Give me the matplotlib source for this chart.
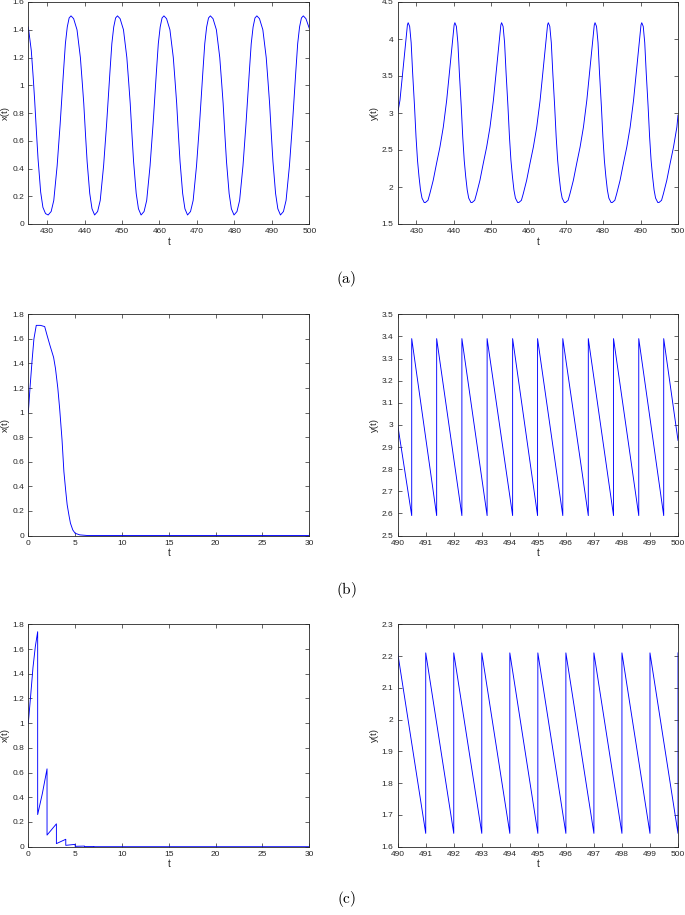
"""
Three-row phase plots: x(t) and y(t) for cases (a), (b), (c)
"""

import numpy as np
import matplotlib
matplotlib.use("Agg")
import matplotlib.pyplot as plt
from matplotlib.ticker import FixedLocator, FuncFormatter

plt.rcParams["font.family"] = ["Liberation Sans", "DejaVu Sans"]
plt.rcParams["mathtext.fontset"] = "cm"

# ---- (a) x(t), periodic oscillation ----
t_xa = [425.0, 425.8, 426.3, 426.7, 427.2, 427.6, 428.3, 428.9, 429.6, 430.3,
        431.1, 431.8, 432.7, 433.5, 434.4, 434.9, 435.4, 435.9, 436.4,
        437.1, 438.0, 438.9, 439.4, 439.8, 440.3, 440.7, 441.4, 442.0, 442.7,
        443.5, 444.2, 445.1, 445.9, 446.8, 447.3, 447.8, 448.3, 448.8,
        449.5, 450.4, 451.3, 451.8, 452.2, 452.7, 453.1, 453.8, 454.4, 455.1,
        455.9, 456.6, 457.5, 458.3, 459.2, 459.7, 460.2, 460.7, 461.2,
        461.9, 462.8, 463.7, 464.2, 464.6, 465.1, 465.5, 466.2, 466.8, 467.5,
        468.3, 469.0, 469.9, 470.7, 471.6, 472.1, 472.6, 473.1, 473.6,
        474.3, 475.2, 476.1, 476.6, 477.0, 477.5, 477.9, 478.6, 479.2, 479.9,
        480.7, 481.4, 482.3, 483.1, 484.0, 484.5, 485.0, 485.5, 486.0,
        486.7, 487.6, 488.5, 489.0, 489.4, 489.9, 490.3, 491.0, 491.6, 492.3,
        493.1, 493.8, 494.7, 495.5, 496.4, 496.9, 497.4, 497.9, 498.4,
        499.1, 500.0]
x_a = [1.42, 1.25, 1.06, 0.89, 0.65, 0.47, 0.23, 0.12, 0.075, 0.065,
       0.09, 0.17, 0.42, 0.72, 1.10, 1.30, 1.42, 1.485, 1.50,
       1.48, 1.40, 1.20, 1.02, 0.87, 0.63, 0.45, 0.22, 0.11, 0.065,
       0.09, 0.17, 0.42, 0.72, 1.10, 1.30, 1.42, 1.485, 1.50,
       1.48, 1.40, 1.20, 1.02, 0.87, 0.63, 0.45, 0.22, 0.11, 0.065,
       0.09, 0.17, 0.42, 0.72, 1.10, 1.30, 1.42, 1.485, 1.50,
       1.48, 1.40, 1.20, 1.02, 0.87, 0.63, 0.45, 0.22, 0.11, 0.065,
       0.09, 0.17, 0.42, 0.72, 1.10, 1.30, 1.42, 1.485, 1.50,
       1.48, 1.40, 1.20, 1.02, 0.87, 0.63, 0.45, 0.22, 0.11, 0.065,
       0.09, 0.17, 0.42, 0.72, 1.10, 1.30, 1.42, 1.485, 1.50,
       1.48, 1.40, 1.20, 1.02, 0.87, 0.63, 0.45, 0.22, 0.11, 0.065,
       0.09, 0.17, 0.42, 0.72, 1.10, 1.30, 1.42, 1.485, 1.50,
       1.48, 1.41]

# ---- (a) y(t) ----
t_ya = [425.0, 425.6, 426.4, 427.1, 427.6, 427.8,
        428.2, 428.6, 429.0, 429.5, 429.9, 430.3, 430.7, 431.1, 431.5, 432.1, 432.4,
        433.1, 433.6, 434.5, 435.4, 436.3, 437.2, 438.1, 438.9, 439.6, 440.1, 440.3,
        440.7, 441.1, 441.5, 442.0, 442.4, 442.8, 443.2, 443.6, 444.0, 444.6, 444.9,
        445.6, 446.1, 447.0, 447.9, 448.8, 449.7, 450.6, 451.4, 452.1, 452.6, 452.8,
        453.2, 453.6, 454.0, 454.5, 454.9, 455.3, 455.7, 456.1, 456.5, 457.1, 457.4,
        458.1, 458.6, 459.5, 460.4, 461.3, 462.2, 463.1, 463.9, 464.6, 465.1, 465.3,
        465.7, 466.1, 466.5, 467.0, 467.4, 467.8, 468.2, 468.6, 469.0, 469.6, 469.9,
        470.6, 471.1, 472.0, 472.9, 473.8, 474.7, 475.6, 476.4, 477.1, 477.6, 477.8,
        478.2, 478.6, 479.0, 479.5, 479.9, 480.3, 480.7, 481.1, 481.5, 482.1, 482.4,
        483.1, 483.6, 484.5, 485.4, 486.3, 487.2, 488.1, 488.9, 489.6, 490.1, 490.3,
        490.7, 491.1, 491.5, 492.0, 492.4, 492.8, 493.2, 493.6, 494.0, 494.6, 494.9,
        495.6, 496.1, 497.0, 497.9, 498.8, 499.7, 500.0]
y_a = [3.00, 3.17, 3.58, 3.94, 4.19, 4.22,
       4.17, 3.95, 3.54, 3.09, 2.68, 2.36, 2.14, 1.96, 1.85, 1.79, 1.79,
       1.82, 1.91, 2.09, 2.32, 2.54, 2.81, 3.17, 3.58, 3.94, 4.19, 4.22,
       4.17, 3.95, 3.54, 3.09, 2.68, 2.36, 2.14, 1.96, 1.85, 1.79, 1.79,
       1.82, 1.91, 2.09, 2.32, 2.54, 2.81, 3.17, 3.58, 3.94, 4.19, 4.22,
       4.17, 3.95, 3.54, 3.09, 2.68, 2.36, 2.14, 1.96, 1.85, 1.79, 1.79,
       1.82, 1.91, 2.09, 2.32, 2.54, 2.81, 3.17, 3.58, 3.94, 4.19, 4.22,
       4.17, 3.95, 3.54, 3.09, 2.68, 2.36, 2.14, 1.96, 1.85, 1.79, 1.79,
       1.82, 1.91, 2.09, 2.32, 2.54, 2.81, 3.17, 3.58, 3.94, 4.19, 4.22,
       4.17, 3.95, 3.54, 3.09, 2.68, 2.36, 2.14, 1.96, 1.85, 1.79, 1.79,
       1.82, 1.91, 2.09, 2.32, 2.54, 2.81, 3.17, 3.58, 3.94, 4.19, 4.22,
       4.17, 3.95, 3.54, 3.09, 2.68, 2.36, 2.14, 1.96, 1.85, 1.79, 1.79,
       1.82, 1.91, 2.09, 2.32, 2.54, 2.81, 2.97]

# ---- (b) x(t), dies out ----
t_xb = [0.0, 0.2, 0.4, 0.6, 0.85, 1.3, 1.75, 2.0, 2.3, 2.7, 2.9, 3.15, 3.35,
        3.6, 3.8, 4.0, 4.15, 4.35, 4.5, 4.75, 5.0, 5.5, 6.3, 10.0, 30.0]
x_b = [1.0, 1.22, 1.42, 1.60, 1.71, 1.71, 1.70, 1.63, 1.55, 1.45, 1.36, 1.20, 1.03,
       0.78, 0.52, 0.36, 0.25, 0.16, 0.10, 0.045, 0.018, 0.005, 0.0, 0.0, 0.0]

# ---- (b) y(t), sawtooth with impulses ----
t_yb = [490.0, 490.5, 490.5, 491.39, 491.39, 492.29, 492.29, 493.19, 493.19,
        494.1, 494.1, 494.99, 494.99, 495.89, 495.89, 496.8, 496.8, 497.7, 497.7,
        498.6, 498.6, 499.49, 499.49, 500.0]
y_b = [3.0, 2.59, 3.39, 2.59, 3.39, 2.59, 3.39, 2.59, 3.39,
       2.59, 3.39, 2.59, 3.39, 2.59, 3.39, 2.59, 3.39, 2.59, 3.39,
       2.59, 3.39, 2.59, 3.39, 2.93]

# ---- (c) x(t), impulsive decay ----
t_xc = [0.0, 0.25, 0.5, 0.75, 1.0, 1.0, 1.5, 2.0, 2.0, 3.0, 3.0, 4.0, 4.0,
        5.0, 5.0, 6.0, 6.0, 7.0, 7.0, 30.0]
x_c = [1.0, 1.22, 1.45, 1.62, 1.74, 0.26, 0.43, 0.63, 0.094, 0.185, 0.025, 0.06, 0.011,
       0.019, 0.003, 0.005, 0.001, 0.001, 0.0, 0.0]

# ---- (c) y(t), sawtooth ----
t_yc = [490.0, 490.0, 491.0, 491.0, 492.0, 492.0, 493.0, 493.0, 494.0, 494.0,
        495.0, 495.0, 496.0, 496.0, 497.0, 497.0, 498.0, 498.0, 499.0, 499.0,
        500.0, 500.0]
y_c = [1.642, 2.21, 1.642, 2.21, 1.642, 2.21, 1.642, 2.21, 1.642, 2.21,
       1.642, 2.21, 1.642, 2.21, 1.642, 2.21, 1.642, 2.21, 1.642, 2.21,
       1.642, 2.21]

W, H = 685, 915
fig = plt.figure(figsize=(W / 100, H / 100), dpi=100)

col_left = (28.3, 309.3)
col_right = (397.7, 678.0)
rows = [(2.0, 224.0), (314.3, 535.5), (624.3, 846.7)]


def make_ax(col, row):
    x0, x1 = col
    y0, y1 = row
    return fig.add_axes([x0 / W, 1 - y1 / H, (x1 - x0) / W, (y1 - y0) / H])


fmt = FuncFormatter(lambda v, p: f"{v:g}")


def style(ax, xlim, xticks, ylim, yticks, ylabel):
    ax.set_xlim(*xlim)
    ax.set_ylim(*ylim)
    ax.xaxis.set_major_locator(FixedLocator(np.round(xticks, 4)))
    ax.yaxis.set_major_locator(FixedLocator(np.round(yticks, 4)))
    ax.xaxis.set_major_formatter(fmt)
    ax.yaxis.set_major_formatter(fmt)
    ax.tick_params(direction="in", top=True, right=True, length=3, width=0.5,
                   labelsize=6.0, pad=3, colors="#262626")
    for s in ax.spines.values():
        s.set_linewidth(0.6)
        s.set_color("#262626")
    ax.set_xlabel("t", fontsize=7, labelpad=1, color="#262626")
    ax.set_ylabel(ylabel, fontsize=6.8, labelpad=2, color="#262626")


line_kw = dict(color=(0.0, 0.0, 1.0), linewidth=0.65)

ax = make_ax(col_left, rows[0])
ax.plot(t_xa, x_a, **line_kw)
style(ax, (425, 500), np.arange(430, 501, 10), (0, 1.6), np.arange(0, 1.61, 0.2), "x(t)")

ax = make_ax(col_right, rows[0])
ax.plot(t_ya, y_a, **line_kw)
style(ax, (425, 500), np.arange(430, 501, 10), (1.5, 4.5), np.arange(1.5, 4.51, 0.5), "y(t)")

ax = make_ax(col_left, rows[1])
ax.plot(t_xb, x_b, **line_kw)
style(ax, (0, 30), np.arange(0, 31, 5), (0, 1.8), np.arange(0, 1.81, 0.2), "x(t)")

ax = make_ax(col_right, rows[1])
ax.plot(t_yb, y_b, **line_kw)
style(ax, (490, 500), np.arange(490, 501, 1), (2.5, 3.5), np.arange(2.5, 3.51, 0.1), "y(t)")

ax = make_ax(col_left, rows[2])
ax.plot(t_xc, x_c, **line_kw)
style(ax, (0, 30), np.arange(0, 31, 5), (0, 1.8), np.arange(0, 1.81, 0.2), "x(t)")

ax = make_ax(col_right, rows[2])
ax.plot(t_yc, y_c, **line_kw)
style(ax, (490, 500), np.arange(490, 501, 1), (1.6, 2.3), np.arange(1.6, 2.31, 0.1), "y(t)")

# sub-figure captions
for lab, yc in [("(a)", 279), ("(b)", 590), ("(c)", 899)]:
    fig.text(346.5 / W, 1 - yc / H, r"$\mathrm{" + lab + "}$", fontsize=11,
             ha="center", va="center")

fig.savefig("out.png", dpi=100)
